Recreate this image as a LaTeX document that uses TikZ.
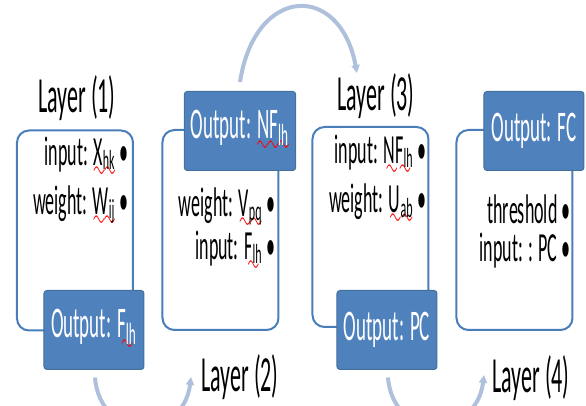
\documentclass[tikz,border=0pt]{standalone}
\usepackage{fontspec}
\setmainfont{Carlito}
\usetikzlibrary{arrows.meta, calc}

\definecolor{boxblue}{HTML}{4A7EBB}
\definecolor{outfill}{HTML}{4F81BD}
\definecolor{outedge}{HTML}{41719C}
\definecolor{arcblue}{HTML}{AFC0DC}

\font\wavefont=lasy6
\newcommand{\tall}[1]{\scalebox{1}[2.3]{#1}}
\newcommand{\spell}[1]{\setbox0\hbox{#1}\rlap{\color{red}\lower2.7pt\hbox to\wd0{\xleaders\hbox{\wavefont\char58}\hfil}}\box0}

\begin{document}
\begin{tikzpicture}[x=0.5pt, y=0.5pt,
    layerbox/.style={draw=boxblue, line width=1pt, rounded corners=6pt, minimum width=58pt, minimum height=100pt},
    outbox/.style={fill=outfill, draw=outedge, line width=0.5pt, rounded corners=1.5pt, minimum width=50pt, minimum height=39.5pt, text=white, font=\fontsize{9.5}{11}\selectfont},
    entry/.style={anchor=east, inner sep=0pt, font=\fontsize{9}{11}\selectfont},
    layerlabel/.style={inner sep=0pt, font=\fontsize{11}{13}\selectfont},
    flow/.style={draw=arcblue, line width=2pt, -{Triangle[length=4pt, width=4pt]}}]
    \useasboundingbox (0,0) rectangle (586,406);

    % layer frames
    \node[layerbox] (box1) at (75,175.5) {};
    \node[layerbox] (box2) at (220.5,176) {};
    \node[layerbox] (box3) at (370.5,179) {};
    \node[layerbox] (box4) at (514.5,176) {};

    % outputs
    \node[outbox] (o1) at (94,76) {\tall{Output: \spell{F\textsubscript{lh}}}};
    \node[outbox] (o2) at (240,275) {\tall{Output: \spell{NF\textsubscript{lh}}}};
    \node[outbox] (o3) at (387,76) {\tall{Output: PC}};
    \node[outbox] (o4) at (534,275) {\tall{Output: FC}};

    % layer names
    \node[layerlabel] (lab1) at (77,308) {\tall{Layer (1)}};
    \node[layerlabel] (lab2) at (240,29) {\tall{Layer (2)}};
    \node[layerlabel] (lab3) at (376,310) {\tall{Layer (3)}};
    \node[layerlabel] (lab4) at (531,28) {\tall{Layer (4)}};

    % entries
    \node[entry] (in1) at (129,249) {\tall{input: \spell{X\textsubscript{hk}}\ •}};
    \node[entry] (w1) at (129,200) {\tall{weight: \spell{W\textsubscript{ij}}\ •}};
    \node[entry] (w2) at (276,198) {\tall{weight: \spell{V\textsubscript{pq}}\ •}};
    \node[entry] (in2) at (276,155) {\tall{input: \spell{F\textsubscript{lh}}\ •}};
    \node[entry] (in3) at (427,251) {\tall{input: \spell{NF\textsubscript{lh}}\ •}};
    \node[entry] (w3) at (427,202) {\tall{weight: \spell{U\textsubscript{ab}}\ •}};
    \node[entry] (th4) at (571,197) {\tall{threshold •}};
    \node[entry] (in4) at (571,155) {\tall{input: : PC •}};

    % arcs between layers
    \draw[flow] ($(o1.south)+(1,-7.5)$) .. controls +(5,-64) and +(-8,-64) .. ($(lab2.west)+(-10,0)$);
    \draw[flow] ($(o2.north)+(0,9)$) .. controls +(15,97) and +(-17,91) .. ($(lab3.north)+(-19,0)$);
    \draw[flow] ($(o3.south)+(1,-7.5)$) .. controls +(5,-64) and +(-8,-64) .. ($(lab4.west)+(-8,3)$);
\end{tikzpicture}
\end{document}
